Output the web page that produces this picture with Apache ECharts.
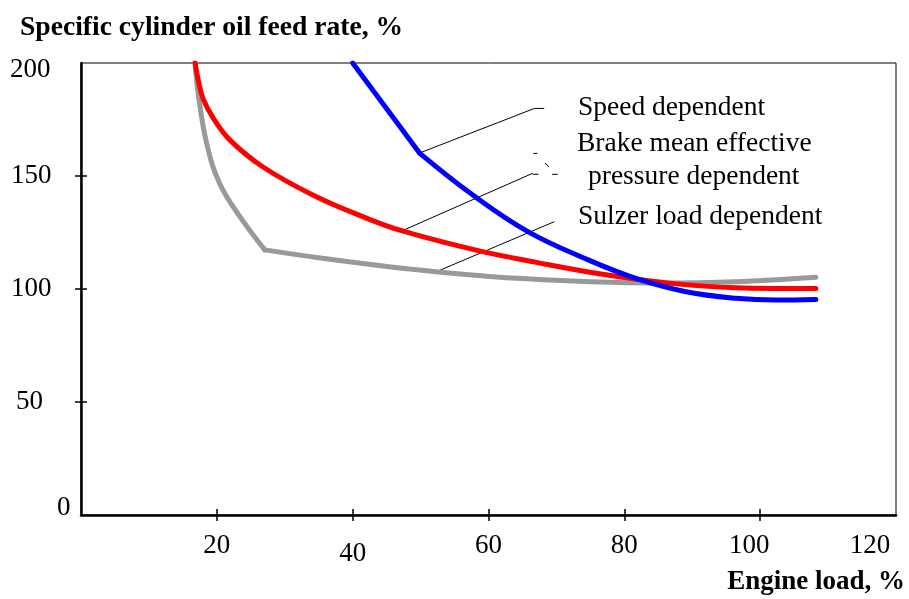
<!DOCTYPE html>
<html>
<head>
<meta charset="utf-8">
<script src="https://cdn.jsdelivr.net/npm/echarts@6/dist/echarts.min.js"></script>
<style>
  html, body { margin: 0; padding: 0; background: #fff; }
  #main { width: 909px; height: 599px; }
</style>
</head>
<body>
<div id="main"></div>
<script>
// values: [engine load %, feed rate %]
const bmepCurve = [[16.8, 200], [17.3, 192], [18.0, 184], [19.5, 175.5], [21.9, 166], [26.8, 154],
  [34.2, 141.5], [41.5, 132], [47.2, 125.8], [58, 117.3], [67, 111.8], [76.8, 106.5],
  [86.6, 102.6], [96.4, 100.6], [108.2, 100.2]]
const sulzerHead = [[16.8, 200], [17.25, 186.6], [18.5, 164.5], [20.4, 146.8], [23.4, 132], [27.06, 117.3]]
const sulzerTail = [[27.06, 117.3], [35, 113.8], [45, 110], [55, 106.9], [65, 104.6], [75, 103.2],
  [85, 102.6], [96.4, 103.2], [108.2, 105.2]]
const speedHead = [[40, 200], [49.9, 160]]
const speedTail = [[49.9, 160], [57.5, 142], [65.8, 125.4], [74.6, 113], [81.7, 104.7],
  [89.1, 98.8], [96.4, 95.9], [102.3, 95.1], [108.2, 95.4]]

// leader lines from the curves to the labels
const leaders = [
  [[49.96, 160.3], [66.76, 179.9], [68.2, 179.9]],
  [[47.16, 125.6], [66.51, 151.2]],
  [[66.51, 150.75], [67.35, 150.75]],
  [[68.34, 155.75], [68.9, 153.98]],
  [[69.37, 150.75], [70.19, 150.75]],
  [[66.6, 160.0], [67.2, 160.0]],
  [[52.3, 107.6], [69.7, 129.8]]
]

const xLabels = [20, 40, 60, 80, 100, 120]
const xTicks = [20, 40, 60, 80, 100]
const yLabels = [0, 50, 100, 150, 200]
const yTicks = [50, 100, 150]
const notes = ['Speed dependent', 'Brake mean effective', 'pressure dependent', 'Sulzer load dependent']

const serif = '"Liberation Serif", "DejaVu Serif", serif'
const chart = echarts.init(document.getElementById('main'), null, { renderer: 'canvas' })

const curve = (data, color, smooth) => ({
  type: 'line',
  data: data,
  smooth: smooth,
  symbol: 'none',
  silent: true,
  lineStyle: { color: color, width: 5, cap: 'round', join: 'round' }
})

const num = (pad) => ({ fontFamily: serif, fontSize: 27, color: '#000', padding: pad })

const option = {
  animation: false,
  backgroundColor: '#fff',
  title: [
    {
      text: 'Specific cylinder oil feed rate, %',
      left: 20,
      top: 14,
      padding: 0,
      textStyle: { fontFamily: serif, fontWeight: 'bold', fontSize: 27.6, color: '#000' }
    },
    {
      text: 'Engine load, %',
      right: 4,
      top: 569,
      padding: 0,
      textStyle: { fontFamily: serif, fontWeight: 'bold', fontSize: 27, color: '#000' }
    }
  ],
  grid: {
    left: 81,
    right: 13,
    top: 63,
    bottom: 84,
    show: true,
    borderColor: '#000',
    borderWidth: 1,
    backgroundColor: 'transparent'
  },
  xAxis: [
    {
      type: 'value',
      min: 0,
      max: 120,
      interval: 20,
      axisLine: { show: true, lineStyle: { color: '#000', width: 2.5 } },
      axisTick: { show: true, inside: false, length: 6, customValues: xTicks, lineStyle: { color: '#000', width: 1.5 } },
      splitLine: { show: false },
      axisLabel: {
        customValues: xLabels,
        margin: 17,
        fontFamily: serif,
        fontSize: 27,
        color: '#000',
        formatter: (v) => v === 40 ? '{d|' + v + '}' : v === 100 ? '{l|' + v + '}' : v === 120 ? '{e|' + v + '}' : '{n|' + v + '}',
        rich: {
          n: num([0, 0, 0, 0]),
          d: num([8, 0, 0, 0]),
          l: num([0, 22, 0, 0]),
          e: num([0, 52, 0, 0])
        }
      }
    },
    {
      type: 'value',
      min: 0,
      max: 120,
      interval: 20,
      position: 'bottom',
      axisLine: { show: false },
      axisTick: { show: true, inside: true, length: 6, customValues: xTicks, lineStyle: { color: '#000', width: 1.5 } },
      axisLabel: { show: false },
      splitLine: { show: false }
    }
  ],
  yAxis: [
    {
      type: 'value',
      min: 0,
      max: 200,
      interval: 50,
      axisLine: { show: true, lineStyle: { color: '#000', width: 2.5 } },
      axisTick: { show: true, inside: false, length: 6, customValues: yTicks, lineStyle: { color: '#000', width: 1.5 } },
      splitLine: { show: false },
      axisLabel: {
        customValues: yLabels,
        margin: 71,
        align: 'left',
        fontFamily: serif,
        fontSize: 27,
        color: '#000',
        formatter: (v) => '{v' + v + '|' + v + '}',
        rich: {
          v0: num([0, 0, 14, 47]),
          v50: num([0, 0, 0, 6]),
          v100: num([0, 0, 0, 1]),
          v150: num([0, 0, 0, 1]),
          v200: num([14, 0, 0, 0])
        }
      }
    },
    {
      type: 'value',
      min: 0,
      max: 200,
      interval: 50,
      position: 'left',
      axisLine: { show: false },
      axisTick: { show: true, inside: true, length: 6, customValues: yTicks, lineStyle: { color: '#000', width: 1.5 } },
      axisLabel: { show: false },
      splitLine: { show: false }
    }
  ],
  graphic: [
    { type: 'text', left: 578, top: 94, style: { text: notes[0], font: '27.5px ' + serif, fill: '#000' } },
    { type: 'text', left: 577, top: 130, style: { text: notes[1], font: '27.5px ' + serif, fill: '#000' } },
    { type: 'text', left: 588, top: 163, style: { text: notes[2], font: '27.5px ' + serif, fill: '#000' } },
    { type: 'text', left: 578, top: 203, style: { text: notes[3], font: '27.5px ' + serif, fill: '#000' } }
  ],
  series: [
    ...leaders.map((seg) => ({
      type: 'line',
      data: seg,
      symbol: 'none',
      silent: true,
      lineStyle: { color: '#000', width: 1 }
    })),
    curve(sulzerHead, '#999999', 0.4),
    curve(sulzerTail, '#999999', 0.4),
    curve(bmepCurve, '#ff0000', 0.4),
    curve(speedHead, '#0000ff', false),
    curve(speedTail, '#0000ff', 0.4)
  ]
}

chart.setOption(option)
</script>
</body>
</html>
